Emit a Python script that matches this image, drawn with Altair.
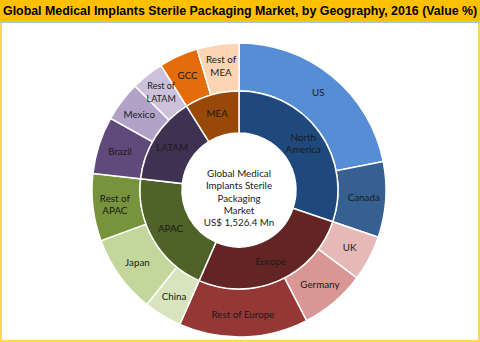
import math
import altair as alt
import pandas as pd

# ---- data ----
countries = ["US", "Canada", "UK", "Germany", "Rest of Europe", "China", "Japan",
             "Rest of APAC", "Brazil", "Mexico", "Rest of LATAM", "GCC", "Rest of MEA"]
country_labels = ["US", "Canada", "UK", "Germany", "Rest of Europe", "China", "Japan",
                  "Rest of\nAPAC", "Brazil", "Mexico", "Rest of\nLATAM", "GCC", "Rest of\nMEA"]
country_share = [21.9, 8.3, 5.0, 7.2, 14.2, 4.2, 8.6, 7.4, 6.3, 4.4, 3.6, 4.3, 4.6]
country_region = ["North America", "North America", "Europe", "Europe", "Europe",
                  "APAC", "APAC", "APAC", "LATAM", "LATAM", "LATAM", "MEA", "MEA"]
regions = ["North America", "Europe", "APAC", "LATAM", "MEA"]
region_labels = ["North\nAmerica", "Europe", "APAC", "LATAM", "MEA"]
center_text = "Global Medical\nImplants Sterile\nPackaging\nMarket\nUS$ 1,526.4 Mn"
title_text = "Global Medical Implants Sterile Packaging Market, by Geography, 2016 (Value %)"

# ---- styles ----
colors = {
    "US": "#558ED5", "Canada": "#376092",
    "UK": "#E6B9B8", "Germany": "#D99694", "Rest of Europe": "#953735",
    "China": "#D7E4BD", "Japan": "#C3D69B", "Rest of APAC": "#77933C",
    "Brazil": "#604A7B", "Mexico": "#B3A2C7", "Rest of LATAM": "#CCC1DA",
    "GCC": "#E46C0A", "Rest of MEA": "#FCD5B5",
    "North America": "#1F497D", "Europe": "#632523", "APAC": "#4F6228",
    "LATAM": "#3F3151", "MEA": "#984807",
}
CX, CY = 239, 190
R_OUT, R_MID, R_IN = 147, 99, 57
FONT = "Lato"
FS = 9.8
TXT = "#1a1a1a"

outer_df = pd.DataFrame({"idx": range(len(countries)), "name": countries,
                         "label": country_labels, "share": country_share})
outer_df["nlines"] = [l.count("\n") + 1 for l in country_labels]
region_share = [round(sum(s for s, r in zip(country_share, country_region) if r == g), 2)
                for g in regions]
inner_df = pd.DataFrame({"idx": range(len(regions)), "name": regions,
                         "label": region_labels, "share": region_share})
inner_df["nlines"] = [l.count("\n") + 1 for l in region_labels]

color_scale = alt.Scale(domain=list(colors.keys()), range=list(colors.values()))
theta_scale = alt.Scale(domain=[0, 100], range=[0, 2 * math.pi], zero=True)


def ring(df, r1, r2, rtext):
    base = alt.Chart(df).transform_stack(
        stack="share", as_=["s0", "s1"], groupby=[],
        sort=[alt.SortField("idx", order="ascending")]
    ).transform_calculate(mid="(datum.s0 + datum.s1) / 2")
    arcs = base.mark_arc(radius=r1, radius2=r2, stroke="white", strokeWidth=1.5).encode(
        theta=alt.Theta("s0:Q", scale=theta_scale),
        theta2="s1:Q",
        x=alt.value(CX), y=alt.value(CY),
        color=alt.Color("name:N", scale=color_scale, legend=None),
    )
    layers = [arcs]
    for n, dy in [(1, 0), (2, -6)]:
        t = base.transform_filter(alt.datum.nlines == n).mark_text(
            radius=rtext, font=FONT, color=TXT, lineBreak="\n", lineHeight=12.5,
            align="center", baseline="middle", dy=dy
        ).encode(
            theta=alt.Theta("mid:Q", scale=theta_scale),
            x=alt.value(CX), y=alt.value(CY),
            text="label:N",
            size=alt.condition(alt.datum.name == "Rest of LATAM", alt.value(9), alt.value(FS)),
        )
        layers.append(t)
    return layers


outer_layers = ring(outer_df, R_OUT, R_MID, 125)
inner_layers = ring(inner_df, R_MID, R_IN, 79)

one = alt.Data(values=[{}])

bar = alt.Chart(one).mark_rect(color="#FFC000").encode(
    x=alt.value(0), x2=alt.value(480), y=alt.value(0), y2=alt.value(21))
bar_line = alt.Chart(one).mark_rect(color="#A9C4E0").encode(
    x=alt.value(0), x2=alt.value(480), y=alt.value(21), y2=alt.value(23))
frame = alt.Chart(one).mark_rect(fill=None, stroke="#FFD55A", strokeWidth=2).encode(
    x=alt.value(1), x2=alt.value(479), y=alt.value(1), y2=alt.value(341))
title = alt.Chart(one).mark_text(text=title_text, font="Liberation Sans",
                                 fontWeight="bold", fontSize=12.4, color="#000000",
                                 align="left", baseline="alphabetic").encode(
    x=alt.value(3), y=alt.value(15))
center = alt.Chart(one).mark_text(text=center_text, font=FONT, fontSize=FS,
                                  color=TXT, lineBreak="\n", lineHeight=12.3,
                                  align="center", baseline="middle").encode(
    x=alt.value(CX), y=alt.value(174))

chart = alt.layer(frame, *outer_layers, *inner_layers, center,
                  bar, bar_line, title).resolve_scale(theta="shared").properties(
    width=480, height=342, autosize="none", padding=0,
    background="white",
).configure_view(stroke=None)

chart.save("out.html", embed_options={"renderer": "svg", "actions": False})
